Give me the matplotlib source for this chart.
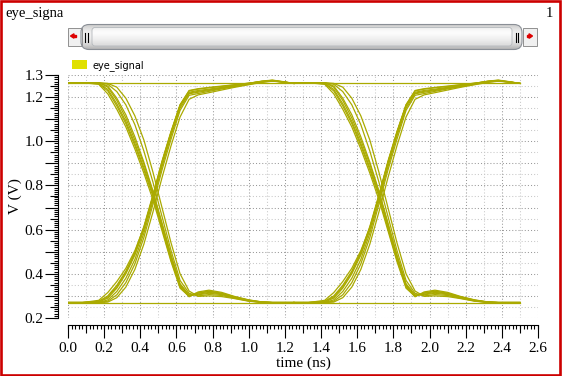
import numpy as np
import matplotlib.pyplot as plt
import matplotlib.ticker as plticker
from matplotlib.patches import Rectangle, FancyBboxPatch, Polygon, Patch

plt.rcParams['font.family'] = ['Liberation Serif', 'DejaVu Serif']

# eye diagram: one unit interval, traces
UI = 1.25
t_rel = [0.00, 0.08, 0.17, 0.22, 0.27, 0.32, 0.37, 0.42, 0.47, 0.52, 0.57,
         0.62, 0.67, 0.72, 0.78, 0.85, 0.92, 1.00, 1.07, 1.13, 1.19, 1.25]

fall_a = [1.262, 1.265, 1.258, 1.215, 1.145, 1.065, 0.965, 0.855, 0.735, 0.595, 0.455,
          0.335, 0.298, 0.314, 0.322, 0.312, 0.296, 0.281, 0.273, 0.270, 0.270, 0.270]
fall_b = [1.262, 1.265, 1.262, 1.235, 1.170, 1.090, 0.990, 0.880, 0.760, 0.615, 0.470,
          0.345, 0.300, 0.312, 0.320, 0.311, 0.295, 0.280, 0.272, 0.270, 0.270, 0.270]
fall_c = [1.262, 1.265, 1.265, 1.245, 1.185, 1.105, 1.005, 0.895, 0.770, 0.625, 0.480,
          0.350, 0.302, 0.308, 0.316, 0.309, 0.294, 0.279, 0.272, 0.270, 0.270, 0.270]
fall_d = [1.262, 1.265, 1.265, 1.250, 1.195, 1.120, 1.020, 0.905, 0.775, 0.630, 0.485,
          0.355, 0.305, 0.305, 0.312, 0.306, 0.292, 0.278, 0.271, 0.270, 0.270, 0.270]
fall_e = [1.262, 1.265, 1.265, 1.258, 1.225, 1.165, 1.075, 0.955, 0.815, 0.660, 0.505,
          0.370, 0.312, 0.300, 0.306, 0.302, 0.290, 0.277, 0.271, 0.270, 0.270, 0.270]
fall_f = [1.265, 1.265, 1.265, 1.262, 1.245, 1.195, 1.115, 1.005, 0.860, 0.700, 0.540,
          0.400, 0.322, 0.298, 0.300, 0.297, 0.288, 0.276, 0.271, 0.270, 0.270, 0.270]
fall_g = [1.262, 1.265, 1.260, 1.228, 1.160, 1.080, 0.980, 0.870, 0.750, 0.605, 0.462,
          0.340, 0.296, 0.318, 0.326, 0.316, 0.298, 0.282, 0.273, 0.270, 0.270, 0.270]

rise_a = [0.270, 0.270, 0.276, 0.300, 0.348, 0.412, 0.498, 0.615, 0.758, 0.910, 1.045,
          1.165, 1.228, 1.236, 1.242, 1.248, 1.255, 1.263, 1.271, 1.275, 1.269, 1.262]
rise_b = [0.270, 0.270, 0.272, 0.290, 0.335, 0.400, 0.485, 0.600, 0.745, 0.900, 1.035,
          1.160, 1.222, 1.230, 1.236, 1.244, 1.252, 1.262, 1.272, 1.277, 1.270, 1.262]
rise_c = [0.270, 0.270, 0.270, 0.282, 0.320, 0.380, 0.465, 0.585, 0.730, 0.885, 1.025,
          1.150, 1.215, 1.222, 1.230, 1.240, 1.249, 1.260, 1.270, 1.274, 1.268, 1.262]
rise_d = [0.270, 0.270, 0.270, 0.276, 0.305, 0.360, 0.445, 0.565, 0.715, 0.870, 1.010,
          1.140, 1.208, 1.216, 1.226, 1.237, 1.247, 1.258, 1.268, 1.273, 1.268, 1.262]
rise_e = [0.270, 0.270, 0.270, 0.272, 0.292, 0.340, 0.420, 0.535, 0.680, 0.835, 0.980,
          1.110, 1.190, 1.210, 1.220, 1.232, 1.244, 1.256, 1.266, 1.272, 1.268, 1.262]
rise_f = [0.270, 0.270, 0.280, 0.315, 0.365, 0.425, 0.505, 0.610, 0.750, 0.905, 1.040,
          1.165, 1.230, 1.238, 1.244, 1.250, 1.256, 1.263, 1.270, 1.274, 1.268, 1.262]
rise_g = [0.270, 0.270, 0.274, 0.295, 0.342, 0.406, 0.492, 0.608, 0.752, 0.905, 1.040,
          1.162, 1.218, 1.226, 1.233, 1.242, 1.251, 1.261, 1.271, 1.276, 1.269, 1.262]

t_span = [0.0, 2.5]
high_level = [1.265, 1.265]
low_level = [0.27, 0.27]

xtick_vals = [0.0, 0.2, 0.4, 0.6, 0.8, 1.0, 1.2, 1.4, 1.6, 1.8, 2.0, 2.2, 2.4, 2.6]
xtick_labels = ['0.0', '0.2', '0.4', '0.6', '0.8', '1.0', '1.2', '1.4', '1.6', '1.8',
                '2.0', '2.2', '2.4', '2.6']
ytick_vals = [0.2, 0.3, 0.4, 0.5, 0.6, 0.7, 0.8, 0.9, 1.0, 1.1, 1.2, 1.3]
ytick_labels = ['0.2', '', '0.4', '', '0.6', '', '0.8', '', '1.0', '', '1.2', '1.3']

trace_color = '#aaaa00'
W, H = 562, 376

fig = plt.figure(figsize=(W / 100, H / 100), dpi=100)
ax = fig.add_axes([68 / W, 1 - 318 / H, 470 / W, 243 / H])

traces = [fall_a, fall_b, fall_c, fall_d, fall_e, fall_f, fall_g,
          rise_a, rise_b, rise_c, rise_d, rise_e, rise_f, rise_g]
for k in range(2):
    for tr in traces:
        ax.plot(np.array(t_rel) + k * UI, tr, color=trace_color, lw=0.9)
ax.plot(t_span, high_level, color=trace_color, lw=0.9)
ax.plot(t_span, low_level, color=trace_color, lw=0.9)

ax.set_xlim(0, 2.6)
ax.set_ylim(0.2, 1.3)
for s in ['top', 'right']:
    ax.spines[s].set_visible(False)
ax.spines['left'].set_position(('outward', 7.2))
ax.spines['bottom'].set_position(('outward', 5))
for s in ['left', 'bottom']:
    ax.spines[s].set_linewidth(0.8)

ax.set_xticks(xtick_vals, xtick_labels)
ax.set_yticks(ytick_vals, ytick_labels)
ax.xaxis.set_minor_locator(plticker.MultipleLocator(0.1))
ax.yaxis.set_minor_locator(plticker.MultipleLocator(0.05))
ax.tick_params(which='major', length=9.5, width=0.8, labelsize=11, pad=1)
ax.tick_params(which='minor', length=5.5, width=0.8)
ax.tick_params(axis='x', which='major', pad=3)

ax.grid(which='major', color='#999999', ls=(0, (1, 2)), lw=0.75)
ax.grid(which='minor', color='#c8c8c8', ls=(0, (1, 2)), lw=0.75)
ax.set_axisbelow(True)

# finest ticks (0.02 ns / 0.01 V)
secx = ax.secondary_xaxis(-7 / 243)
secx.xaxis.set_major_locator(plticker.MultipleLocator(0.02))
secx.xaxis.set_major_formatter(plticker.NullFormatter())
secx.tick_params(length=3, width=0.8)
secx.spines['bottom'].set_visible(False)
secy = ax.secondary_yaxis(-10 / 470)
secy.yaxis.set_major_locator(plticker.MultipleLocator(0.01))
secy.yaxis.set_major_formatter(plticker.NullFormatter())
secy.tick_params(length=3, width=0.8)
secy.spines['left'].set_visible(False)

ax.set_xlabel('time (ns)', fontsize=11, labelpad=1)
ax.set_ylabel('V (V)', fontsize=11, labelpad=2)

fig.legend(handles=[Patch(facecolor='#e0e000', edgecolor='none', label='eye_signal')],
           loc='upper left', bbox_to_anchor=(71.5 / W, 1 - 60 / H), frameon=False,
           prop={'family': 'DejaVu Sans', 'size': 7}, handlelength=1.55,
           handleheight=1.0, handletextpad=0.6, borderpad=0, borderaxespad=0)

# window decoration: title, scrollbar, red frame
ov = fig.add_axes([0, 0, 1, 1], facecolor='none')
ov.set_xlim(0, W)
ov.set_ylim(H, 0)
ov.axis('off')

ov.text(5, 17.5, 'eye_signa', fontsize=10.5, va='baseline', ha='left')
ov.text(553, 17, '1', fontsize=10.5, va='baseline', ha='right')

ov.add_patch(Rectangle((67.5, 28), 14, 18, facecolor='#f0f0f0', edgecolor='#909090', lw=0.7))
ov.add_patch(Rectangle((522.5, 28), 14, 18, facecolor='#f0f0f0', edgecolor='#909090', lw=0.7))
ov.add_patch(Polygon([(70.5, 36), (74, 33.8), (74, 38.2)], closed=True, color='#dd0000'))
ov.add_patch(Rectangle((73.5, 35), 2.5, 2, color='#dd0000'))
ov.add_patch(Polygon([(532.5, 36), (529, 33.8), (529, 38.2)], closed=True, color='#dd0000'))
ov.add_patch(Rectangle((527, 35), 2.5, 2, color='#dd0000'))

thumb = FancyBboxPatch((84, 27.5), 435, 19, boxstyle='round,pad=3,rounding_size=8',
                       facecolor='none', edgecolor='#8a8f96', lw=0.8)
ov.add_patch(thumb)
grad = np.array([0.80, 0.86, 0.90, 0.93, 0.94, 0.93, 0.91, 0.88, 0.84, 0.78, 0.70])
img = ov.imshow(grad.reshape(-1, 1), cmap='gray', vmin=0, vmax=1, aspect='auto',
                extent=[80, 523, 50, 24], interpolation='bicubic')
img.set_clip_path(thumb)
inner = FancyBboxPatch((92.5, 28), 419, 17.5, boxstyle='round,pad=0.5,rounding_size=3',
                       facecolor='none', edgecolor='#b4b8bc', lw=0.6)
ov.add_patch(inner)
grad2 = np.array([0.93, 0.97, 0.99, 0.98, 0.96, 0.94, 0.92, 0.89, 0.86])
img2 = ov.imshow(grad2.reshape(-1, 1), cmap='gray', vmin=0, vmax=1, aspect='auto',
                 extent=[92, 512, 46, 27.5], interpolation='bicubic')
img2.set_clip_path(inner)
for gx in [85, 87.5, 515.5, 518]:
    ov.plot([gx, gx], [33, 42], color='black', lw=0.8)
ov.set_xlim(0, W)
ov.set_ylim(H, 0)

ov.add_patch(Rectangle((1.2, 1.2), W - 3, H - 2.6, fill=False, edgecolor='#cc0000', lw=1.9))

fig.savefig('out.png', dpi=100)
